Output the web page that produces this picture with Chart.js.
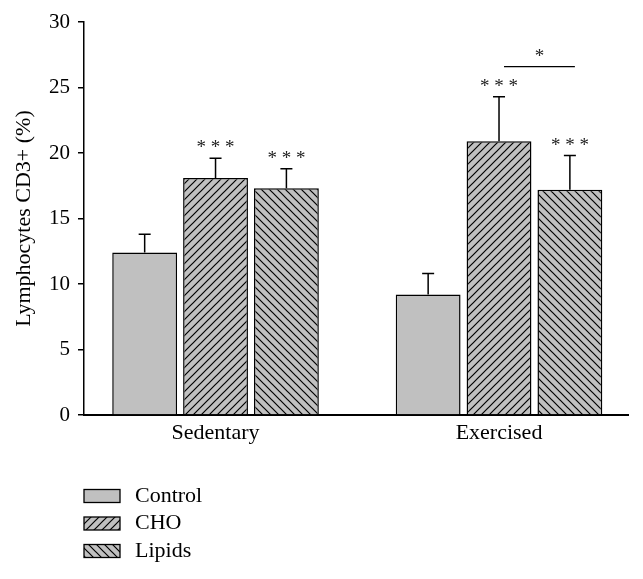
<!DOCTYPE html>
<html>
<head>
<meta charset="utf-8">
<script src="https://cdn.jsdelivr.net/npm/chart.js@4.4.1/dist/chart.umd.min.js"></script>
<style>
  html, body { margin: 0; padding: 0; background: #fff; }
</style>
</head>
<body>
<canvas id="chart" width="643" height="579"></canvas>
<script>
const groups = ['Sedentary', 'Exercised'];
const seriesNames = ['Control', 'CHO', 'Lipids'];
const control = [12.4, 9.2];
const cho = [18.1, 20.9];
const lipids = [17.3, 17.2];
const controlErr = [1.4, 1.6];
const choErr = [1.5, 3.4];
const lipidsErr = [1.5, 2.6];
// significance marks, per series, per group
const controlMarks = ['', ''];
const choMarks = ['***', '***'];
const lipidsMarks = ['***', '***'];
// bracket between CHO and Lipids in Exercised group
const bracketGroup = 1;
const bracketValue = 26.6;
const bracketMark = '*';
const yTicks = [0, 5, 10, 15, 20, 25, 30];

const FONT = '"Liberation Serif", "DejaVu Serif", serif';
const GRAY = '#c0c0c0';

function hatch(dir) {
    const s = 8;
    const c = document.createElement('canvas');
    c.width = s;
    c.height = s;
    const g = c.getContext('2d');
    g.fillStyle = GRAY;
    g.fillRect(0, 0, s, s);
    g.strokeStyle = '#000';
    g.lineWidth = 1.2;
    g.beginPath();
    if (dir > 0) {
        g.moveTo(0, s); g.lineTo(s, 0);
        g.moveTo(-2, 2); g.lineTo(2, -2);
        g.moveTo(s - 2, s + 2); g.lineTo(s + 2, s - 2);
    } else {
        g.moveTo(0, 0); g.lineTo(s, s);
        g.moveTo(-2, s - 2); g.lineTo(2, s + 2);
        g.moveTo(s - 2, -2); g.lineTo(s + 2, 2);
    }
    g.stroke();
    return g.createPattern(c, 'repeat');
}

const fills = [GRAY, hatch(1), hatch(-1)];
const errs = [controlErr, choErr, lipidsErr];
const marks = [controlMarks, choMarks, lipidsMarks];

const toPoints = (arr) => arr.map((v, i) => ({ x: i, y: v }));

const extras = {
    id: 'extras',
    afterDatasetsDraw(chart) {
        const { ctx, scales: { y } } = chart;
        ctx.save();
        ctx.strokeStyle = '#000';
        ctx.lineWidth = 1.5;
        ctx.fillStyle = '#222';
        ctx.font = '19px ' + FONT;
        ctx.textAlign = 'center';
        ctx.textBaseline = 'middle';
        chart.data.datasets.forEach((ds, di) => {
            const meta = chart.getDatasetMeta(di);
            meta.data.forEach((bar, i) => {
                const top = y.getPixelForValue(ds.data[i].y + errs[di][i]);
                ctx.beginPath();
                ctx.moveTo(bar.x, bar.y);
                ctx.lineTo(bar.x, top);
                ctx.moveTo(bar.x - 6, top);
                ctx.lineTo(bar.x + 6, top);
                ctx.stroke();
                if (marks[di][i]) {
                    ctx.fillText(marks[di][i].split('').join(' '), bar.x, top - 10);
                }
            });
        });
        // bracket
        const a = chart.getDatasetMeta(1).data[bracketGroup];
        const b = chart.getDatasetMeta(2).data[bracketGroup];
        const by = y.getPixelForValue(bracketValue);
        ctx.lineWidth = 1.3;
        ctx.beginPath();
        ctx.moveTo(a.x + 5, by);
        ctx.lineTo(b.x + 5, by);
        ctx.stroke();
        ctx.fillText(bracketMark, (a.x + b.x) / 2 + 5, by - 10);
        ctx.restore();
    },
    afterDraw(chart) {
        const { ctx } = chart;
        ctx.save();
        ctx.font = '22px ' + FONT;
        ctx.textBaseline = 'middle';
        ctx.textAlign = 'left';
        seriesNames.forEach((name, i) => {
            const cy = 496 + i * 27.5;
            ctx.fillStyle = fills[i];
            ctx.fillRect(84, cy - 6.5, 36, 13);
            ctx.strokeStyle = '#000';
            ctx.lineWidth = 1.3;
            ctx.strokeRect(84, cy - 6.5, 36, 13);
            ctx.fillStyle = '#000';
            ctx.fillText(name, 135, cy);
        });
        ctx.restore();
    },
};

new Chart(document.getElementById('chart'), {
    type: 'bar',
    data: {
        datasets: seriesNames.map((name, i) => ({
            label: name,
            data: toPoints([control, cho, lipids][i]),
            backgroundColor: fills[i],
            borderColor: '#000',
            borderWidth: 1.5,
            borderSkipped: 'bottom',
            categoryPercentage: 0.75,
            barPercentage: 0.915,
        })),
    },
    options: {
        responsive: false,
        animation: false,
        events: [],
        layout: { padding: { left: 0, right: 15, top: 22, bottom: 0 } },
        plugins: { legend: { display: false }, tooltip: { enabled: false } },
        scales: {
            x: {
                type: 'linear',
                offset: false,
                min: -0.464,
                max: 1.455,
                afterBuildTicks: (scale) => {
                    scale.ticks = groups.map((_, i) => ({ value: i }));
                },
                afterFit: (scale) => { scale.height = 164; },
                ticks: {
                    color: '#000',
                    font: { family: FONT, size: 22 },
                    padding: 5,
                    callback: (v) => groups[v],
                    maxRotation: 0,
                },
                grid: { drawOnChartArea: false, drawTicks: false },
                border: { display: true, color: '#000', width: 2 },
            },
            y: {
                min: 0,
                max: 30,
                afterBuildTicks: (scale) => {
                    scale.ticks = yTicks.map((v) => ({ value: v }));
                },
                afterFit: (scale) => { scale.width = 84; },
                ticks: {
                    color: '#000',
                    font: { family: FONT, size: 21 },
                    padding: 8,
                },
                grid: { drawOnChartArea: false, drawTicks: true, tickLength: 6, color: '#000', lineWidth: 1.5 },
                border: { display: true, color: '#000', width: 1.5 },
                title: {
                    display: true,
                    text: 'Lymphocytes CD3+ (%)',
                    color: '#000',
                    font: { family: FONT, size: 22 },
                    padding: { top: 11, bottom: 0 },
                },
            },
        },
    },
    plugins: [extras],
});
</script>
</body>
</html>
